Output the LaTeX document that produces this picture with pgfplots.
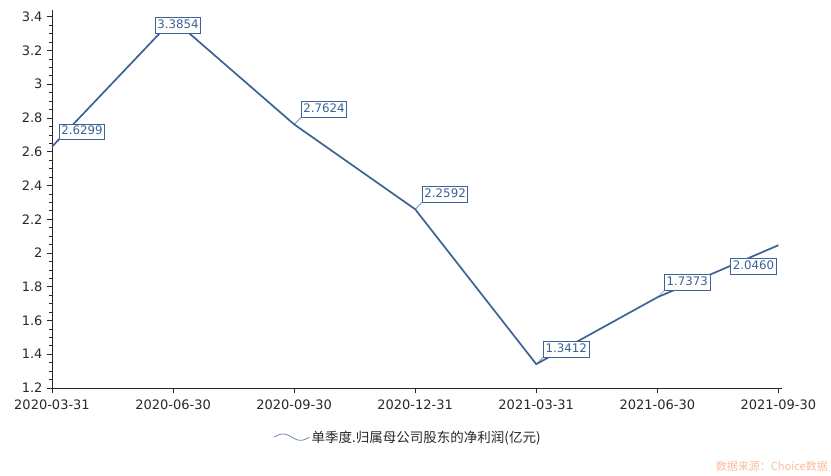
\documentclass[border=0pt]{standalone}
\usepackage{fontspec}
\setmainfont{Noto Sans CJK SC}
\newfontfamily\dejavu{DejaVu Sans}
\usepackage{pgfplots}
\pgfplotsset{compat=1.18}
\definecolor{ln}{RGB}{60,98,150}
\definecolor{tx}{RGB}{40,40,40}
\definecolor{wm}{RGB}{248,190,155}
\tikzset{labbox/.style={draw=ln, fill=white, text=ln, inner sep=2pt, line width=0.6pt,
    text height=9pt, text depth=2.5pt, font=\dejavu\fontsize{11.8}{14}\selectfont}}
\begin{document}
\begin{tikzpicture}
\begin{axis}[name=ax, at={(0,0)}, anchor=south west,
  scale only axis, width=730pt, height=378pt,
  xmin=0, xmax=6.03, ymin=1.2, ymax=3.44,
  axis lines=left, axis line style={-, tx, line width=0.7pt},
  xtick={0,1,2,3,4,5,6},
  xticklabels={2020-03-31,2020-06-30,2020-09-30,2020-12-31,2021-03-31,2021-06-30,2021-09-30},
  ytick={1.2,1.4,1.6,1.8,2,2.2,2.4,2.6,2.8,3,3.2,3.4},
  yticklabels={1.2,1.4,1.6,1.8,2,2.2,2.4,2.6,2.8,3,3.2,3.4},
  minor y tick num=3,
  tick align=outside, major tick length=5pt, minor tick length=3pt,
  tick style={tx, line width=0.7pt},
  ticklabel style={font=\dejavu\fontsize{13}{15}\selectfont, text=tx},
  xticklabel style={yshift=-3pt},
  yticklabel style={xshift=-1pt},
  /pgf/number format/assume math mode=true,
  clip=false,
  legend style={at={(0.488,-0.13)}, anchor=center, draw=none, fill=none,
    font=\fontsize{13.5}{15}\selectfont, text=tx},
  legend image code/.code={\draw[ln!75, line width=0.8pt] plot[domain=-10:25, samples=40, smooth] ({\x pt}, {3.2pt*sin((\x+10)/35*360)});},
  nodes near coords={\pgfmathprintnumber[fixed, fixed zerofill, precision=4]{\pgfplotspointmeta}},
]
\addplot[ln, line width=1.7pt, mark=none, nodes near coords=] coordinates {
  (0,2.6299) (1,3.3854) (2,2.7624) (3,2.2592) (4,1.3412) (5,1.7373) (6,2.0460)
};
\addlegendentry{单季度.归属母公司股东的净利润(亿元)}
\addplot[draw=none, mark=none, forget plot,
  every node near coord/.style={labbox, anchor=south west, xshift=7pt, yshift=7pt,
    append after command={(\tikzlastnode.south west) edge[ln, line width=0.5pt] ++(-7pt,-7pt)}}]
  coordinates {(0,2.6299) (2,2.7624) (3,2.2592) (4,1.3412) (5,1.7373)};
\addplot[draw=none, mark=none, forget plot,
  every node near coord/.style={labbox, anchor=north, xshift=5pt, yshift=2pt}]
  coordinates {(1,3.3854)};
\addplot[draw=none, mark=none, forget plot,
  every node near coord/.style={labbox, anchor=north east, xshift=-2pt, yshift=-13pt}]
  coordinates {(6,2.0460)};
\end{axis}
\node[anchor=south east, text=wm, font=\fontsize{11}{13}\selectfont, inner sep=0pt] at ([shift={(776pt,-84pt)}]ax.south west) {数据来源：Choice数据};
\pgfresetboundingbox
\path ([shift={(-52pt,-87pt)}]ax.south west) rectangle ++(831pt,475pt);
\end{tikzpicture}
\end{document}
